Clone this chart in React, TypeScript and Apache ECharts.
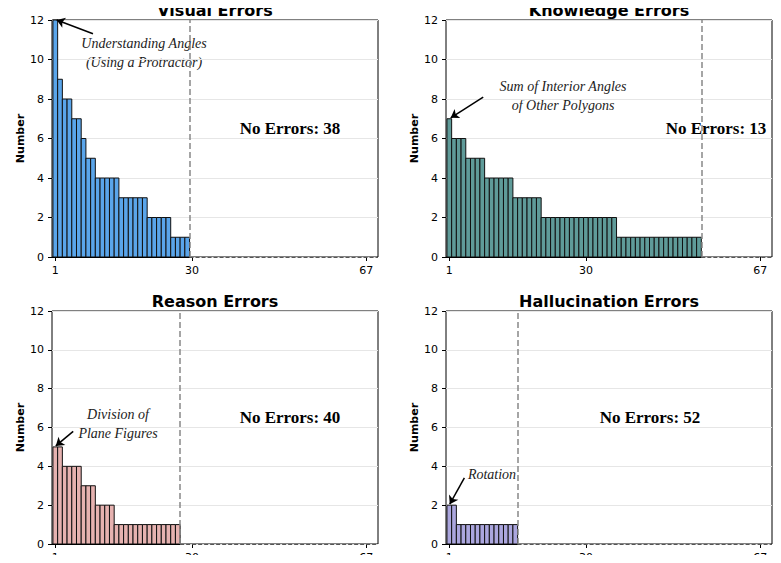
import React, { useEffect, useRef } from 'react';
import * as echarts from 'echarts';

const titles = ['Visual Errors', 'Knowledge Errors', 'Reason Errors', 'Hallucination Errors'];
const colors = ['#5aa5ea', '#5f9b99', '#e6b2b0', '#aba6de'];
const noErrors = [38, 13, 40, 52];
const tickLabels = [1, 30, 67];

const visual = [12, 9, 8, 8, 7, 7, 6, 5, 5, 4, 4, 4, 4, 4, 3, 3, 3, 3, 3, 3, 2, 2, 2, 2, 2, 1, 1, 1, 1];
const knowledge = [7, 6, 6, 6, 5, 5, 5, 5, 4, 4, 4, 4, 4, 4, 3, 3, 3, 3, 3, 3,
  2, 2, 2, 2, 2, 2, 2, 2, 2, 2, 2, 2, 2, 2, 2, 2,
  1, 1, 1, 1, 1, 1, 1, 1, 1, 1, 1, 1, 1, 1, 1, 1, 1, 1];
const reason = [5, 5, 4, 4, 4, 4, 3, 3, 3, 2, 2, 2, 2, 1, 1, 1, 1, 1, 1, 1, 1, 1, 1, 1, 1, 1, 1];
const hallucination = [2, 2, 1, 1, 1, 1, 1, 1, 1, 1, 1, 1, 1, 1, 1];
const panels = [visual, knowledge, reason, hallucination];

// annotation: text lines, text pos (px), arrow tail/head in data coords
const annotations = [
  { lines: ['Understanding Angles', '(Using a Protractor)'], x: 144, y: 53, from: [9, 11.3], to: [1.3, 12] },
  { lines: ['Sum of Interior Angles', 'of Other Polygons'], x: 563, y: 96, from: [8.2, 8.1], to: [1.3, 7.05] },
  { lines: ['Division of', 'Plane Figures'], x: 118, y: 424, from: [4.8, 5.8], to: [1.1, 5.05] },
  { lines: ['Rotation'], x: 492, y: 474, from: [4.2, 3.4], to: [1.1, 2.05] },
];

const gridPos = [
  { left: 52, top: 20 },
  { left: 446, top: 20 },
  { left: 52, top: 311 },
  { left: 446, top: 311 },
];
const noErrPos = [[290, 128], [716, 128], [290, 417], [650, 417]];

const App: React.FC = () => {
  const ref = useRef<HTMLDivElement>(null);

  useEffect(() => {
    if (!ref.current) return;
    const chart = echarts.init(ref.current, null, { renderer: 'svg' });

    const grid = gridPos.map((p) => ({
      left: p.left, top: p.top, width: 326, height: 237,
      show: true, borderColor: '#000', borderWidth: 1, backgroundColor: 'transparent',
    }));
    const xAxis = panels.map((_, i) => ({
      type: 'value', gridIndex: i, min: 0.3, max: 69.5,
      axisLine: { show: false },
      splitLine: { show: false },
      axisTick: { show: true, customValues: tickLabels, length: 4, lineStyle: { color: '#000' } },
      axisLabel: { customValues: tickLabels, color: '#000', fontSize: 11, fontFamily: 'DejaVu Sans' },
    }));
    const yAxis = panels.map((_, i) => ({
      type: 'value', gridIndex: i, min: 0, max: 12, interval: 2,
      name: 'Number', nameLocation: 'middle', nameGap: 24,
      nameTextStyle: { fontWeight: 'bold', fontSize: 11, color: '#000', fontFamily: 'DejaVu Sans' },
      axisLine: { show: false },
      axisTick: { show: true, length: 4, lineStyle: { color: '#000' } },
      axisLabel: { color: '#000', fontSize: 11, fontFamily: 'DejaVu Sans' },
      splitLine: { lineStyle: { color: '#e6e6e6' } },
    }));

    const series: any[] = [];
    panels.forEach((vals, i) => {
      series.push({
        type: 'custom', xAxisIndex: i, yAxisIndex: i,
        data: vals.map((v, k) => [k + 1, v]),
        renderItem: (_p: any, api: any) => {
          const x = api.value(0);
          const v = api.value(1);
          const a = api.coord([x - 0.5, v]);
          const b = api.coord([x + 0.5, 0]);
          return {
            type: 'rect',
            shape: { x: a[0], y: a[1], width: b[0] - a[0], height: b[1] - a[1] },
            style: { fill: colors[i], stroke: '#111', lineWidth: 1 },
          };
        },
      });
      const n = vals.length + 0.5;
      const an = annotations[i];
      series.push({
        type: 'line', xAxisIndex: i, yAxisIndex: i, data: [], silent: true,
        markLine: {
          silent: true, label: { show: false },
          data: [
            [{ coord: [n, 0], symbol: 'none', lineStyle: { type: 'dashed', color: '#888', width: 1.5 } },
             { coord: [n, 12], symbol: 'none' }],
            [{ coord: [n, 0], symbol: 'none', lineStyle: { type: 'dashed', color: '#555', width: 1 } },
             { coord: [69.5, 0], symbol: 'none' }],
            [{ coord: [0.3, 0], symbol: 'none', lineStyle: { type: 'solid', color: '#000', width: 1 } },
             { coord: [n, 0], symbol: 'none' }],
            [{ coord: an.from, symbol: 'none', lineStyle: { type: 'solid', color: '#000', width: 1.5 } },
             { coord: an.to, symbol: 'arrow', symbolSize: 8 }],
          ],
        },
      });
    });

    const graphic: any[] = [];
    titles.forEach((t, i) => {
      graphic.push({
        type: 'text', x: gridPos[i].left + 163, y: gridPos[i].top - 10,
        style: { text: t, font: 'bold 16px "DejaVu Sans"', fill: '#000', align: 'center', verticalAlign: 'middle' },
      });
      graphic.push({
        type: 'text', x: noErrPos[i][0], y: noErrPos[i][1],
        style: { text: `No Errors: ${noErrors[i]}`, font: 'bold 17px "Liberation Serif"', fill: '#000', align: 'center', verticalAlign: 'middle' },
      });
      const an = annotations[i];
      graphic.push({
        type: 'text', x: an.x, y: an.y,
        style: { text: an.lines.join('\n'), font: 'italic 14px "Liberation Serif"', lineHeight: 19, fill: '#222', align: 'center', verticalAlign: 'middle' },
      });
    });

    chart.setOption({ animation: false, grid, xAxis, yAxis, series, graphic } as any);
    return () => chart.dispose();
  }, []);

  return <div ref={ref} style={{ width: 781, height: 563, margin: -8 }} />;
};

export default App;
